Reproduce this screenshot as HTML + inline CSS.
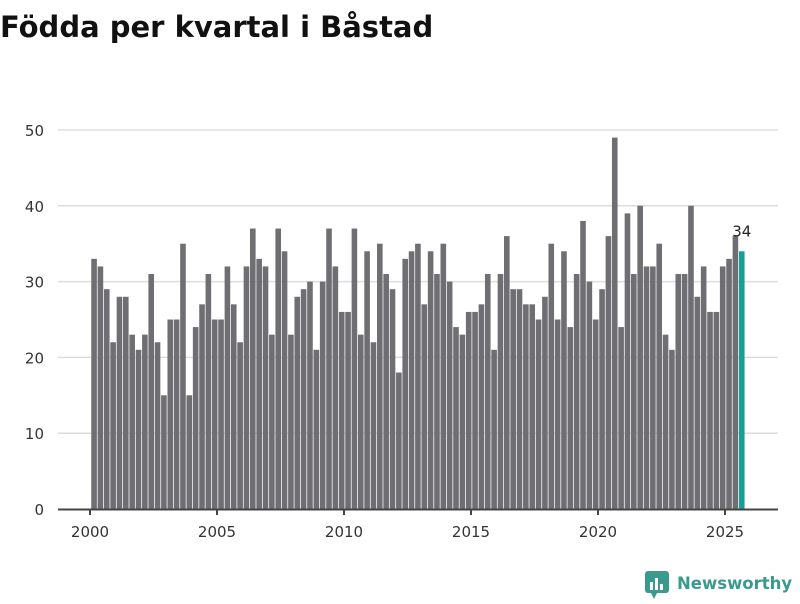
<!DOCTYPE html>
<html><head><meta charset="utf-8"><style>
body{margin:0;width:800px;height:600px;background:#fff;font-family:"DejaVu Sans","Liberation Sans",sans-serif;overflow:hidden}
</style></head><body>
<svg width="800" height="600">
<text x="0" y="37" font-size="29" font-weight="bold" fill="#111">Födda per kvartal i Båstad</text>
<g id="grid"></g><g id="bars"></g><g id="axes"></g>
<g>
<rect x="645" y="571" width="24" height="22" rx="3" fill="#3a9a8e"/>
<polygon points="651,593 657,593 654,599" fill="#3a9a8e"/>
<rect x="650" y="582" width="3" height="8" fill="#fff"/><rect x="655" y="578" width="3" height="12" fill="#fff"/><rect x="660" y="584" width="3" height="6" fill="#fff"/>
<text x="677" y="589" font-size="16.5" font-weight="bold" fill="#3a9a8e">Newsworthy</text>
</g>
</svg>
<script>
const years=[2000,2005,2010,2015,2020,2025];
const yTicks=[0,10,20,30,40,50];
const values=[33,32,29,22, 28,28,23,21, 23,31,22,15, 25,25,35,15, 24,27,31,25, 25,32,27,22, 32,37,33,32, 23,37,34,23, 28,29,30,21, 30,37,32,26, 26,37,23,34, 22,35,31,29, 18,33,34,35, 27,34,31,35, 30,24,23,26, 26,27,31,21, 31,36,29,29, 27,27,25,28, 35,25,34,24, 31,38,30,25, 29,36,49,24, 39,31,40,32, 32,35,23,21, 31,31,40,28, 32,26,26,32, 33,36,34];
const NS="http://www.w3.org/2000/svg";
const x=t=>90+(t-2000)*25.4;
const y=v=>509-v*7.58;
function mk(tag,attrs,parent){const e=document.createElementNS(NS,tag);for(const k in attrs)e.setAttribute(k,attrs[k]);document.getElementById(parent).appendChild(e);return e;}
yTicks.forEach(t=>{
  if(t>0){const l=mk('line',{x1:58,x2:778,y1:y(t),y2:y(t),stroke:'#ddd','stroke-width':1.5},'grid');
  
  }
  const tx=mk('text',{x:44,y:y(t)+6,'font-size':15,fill:'#333','text-anchor':'end'},'axes');tx.textContent=t;
  
  
});
values.forEach((v,i)=>{
  const last=i===values.length-1;
  const cx=x(2000+i/4+0.16);
  const r=mk('rect',{x:cx-2.8,y:y(v),width:5.6,height:y(0)-y(v),fill:last?'#14a094':'#6f6e72'},'bars');
  
  
  if(last){const t=mk('text',{x:cx,y:y(v)-15,'font-size':15,fill:'#222','text-anchor':'middle'},'bars');t.textContent=v;
  
  }
});
const ax=mk('line',{x1:58,x2:778,y1:509.5,y2:509.5,stroke:'#444','stroke-width':2},'axes');


years.forEach(yr=>{
  mk('line',{x1:x(yr),x2:x(yr),y1:509,y2:515,stroke:'#444','stroke-width':2},'axes');
  const t=mk('text',{x:x(yr),y:537,'font-size':15,fill:'#333','text-anchor':'middle'},'axes');t.textContent=yr;
  
  
});
</script>
</body></html>
